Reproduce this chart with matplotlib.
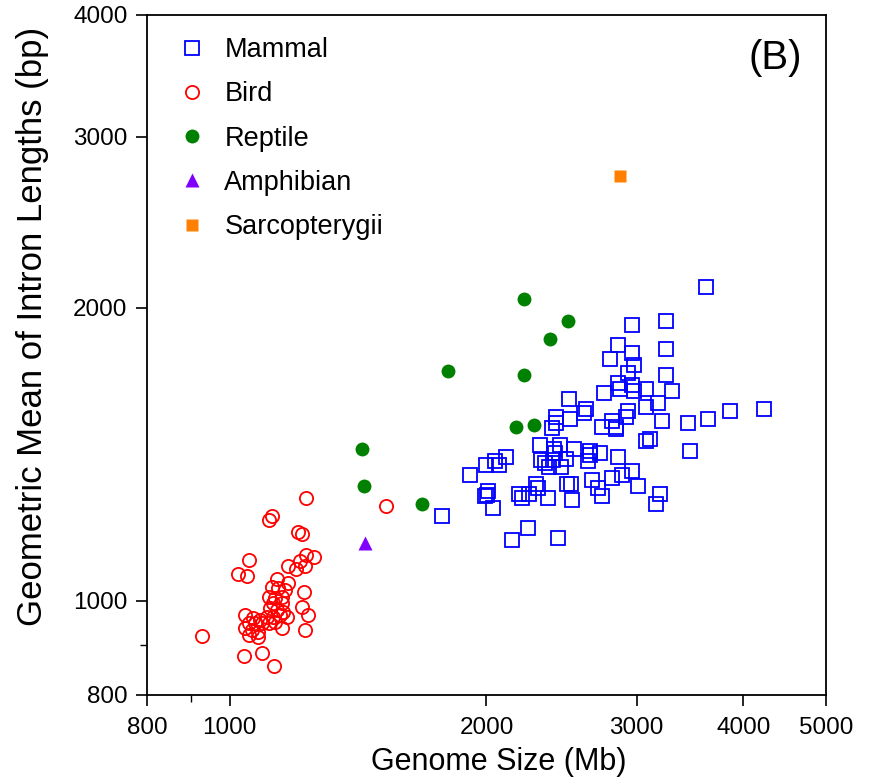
import numpy as np
import matplotlib
matplotlib.use("Agg")
import matplotlib.pyplot as plt
from matplotlib.ticker import FixedLocator, FixedFormatter, NullFormatter

plt.rcParams['font.family'] = ['Liberation Sans', 'DejaVu Sans']

# genome size (Mb) / geometric mean of intron lengths (bp)
mammal_x = [3616, 3247, 2963, 2853, 2963, 3247, 2792, 2979, 2931, 3247,
            2853, 2963, 2868, 2979, 3076, 2747, 3301, 3179, 3076, 2931,
            2915, 3861, 4231, 3636, 3447, 3212, 2807, 2838, 2838, 2733,
            3076, 3111, 3465, 2718, 2853, 2963, 2883, 2807, 2659, 2703,
            2733, 3011, 3195, 3162, 2645, 2645, 2630, 2616, 2602, 2499,
            2414, 2414, 2388, 2506, 2310, 2439, 2401, 2407, 2533, 2316,
            2341, 2369, 2394, 2446, 2479, 2109, 2046, 2069, 1997, 1913,
            2008, 2003, 1992, 2035, 2183, 2201, 2244, 2287, 2299, 2362,
            2485, 2513, 2520, 1775, 2237, 2144, 2426]
mammal_y = [2101, 1938, 1920, 1832, 1797, 1814, 1772, 1747, 1714, 1706,
            1674, 1666, 1651, 1643, 1651, 1635, 1643, 1597, 1582, 1567,
            1545, 1567, 1575, 1538, 1523, 1530, 1530, 1509, 1502, 1509,
            1460, 1466, 1425, 1418, 1405, 1359, 1347, 1337, 1331, 1306,
            1282, 1312, 1288, 1258, 1425, 1411, 1392, 1575, 1560, 1612,
            1545, 1523, 1505, 1538, 1446, 1446, 1431, 1418, 1431, 1395,
            1385, 1372, 1395, 1372, 1398, 1405, 1392, 1378, 1378, 1347,
            1297, 1285, 1282, 1246, 1288, 1276, 1288, 1318, 1306, 1276,
            1318, 1318, 1270, 1222, 1188, 1155, 1160]

bird_x = [1229, 1121, 1112, 1203, 1216, 1053, 1022, 1048, 1229, 1255,
          1209, 1225, 1196, 1170, 1136, 1170, 1222, 1121, 1139, 1161,
          1112, 1130, 1152, 1124, 1152, 1216, 1115, 1136, 1155, 1235,
          1042, 1065, 1085, 1106, 1124, 1146, 1167, 1053, 1070, 1091,
          1112, 1130, 1042, 1062, 1079, 1152, 1225, 1053, 1079, 928,
          1039, 1091, 1127, 1525]
bird_y = [1276, 1222, 1211, 1176, 1171, 1101, 1066, 1061, 1115, 1110,
          1098, 1086, 1079, 1086, 1052, 1043, 1021, 1033, 1031, 1026,
          1009, 1007, 1009, 995, 995, 985, 983, 978, 973, 966,
          966, 960, 955, 962, 962, 966, 962, 949, 949, 949,
          949, 951, 937, 933, 929, 937, 933, 922, 918, 920,
          877, 884, 857, 1252]

reptile_x = [2213, 2492, 2375, 1803, 2213, 2167, 2274, 1430, 1437, 1680]
reptile_y = [2042, 1938, 1857, 1722, 1706, 1509, 1516, 1431, 1312, 1258]

amphibian_x = [1441]
amphibian_y = [1147]

sarco_x = [2868]
sarco_y = [2732]

x_ticks = [800, 1000, 2000, 3000, 4000, 5000]
y_ticks = [800, 1000, 2000, 3000, 4000]

fig = plt.figure(figsize=(8.85, 7.83), dpi=100)
ax = fig.add_axes([0.1661, 0.1124, 0.7672, 0.8685])

ax.plot(mammal_x, mammal_y, 's', ms=9.5, mfc='none', mec='#0000ff', mew=1.3,
        label='Mammal')
ax.plot(bird_x, bird_y, 'o', ms=9.5, mfc='none', mec='#ff0000', mew=1.3,
        label='Bird')
ax.plot(reptile_x, reptile_y, 'o', ms=10, color='#008000', mec='none',
        label='Reptile')
ax.plot(amphibian_x, amphibian_y, '^', ms=10, color='#8000ff', mec='none',
        label='Amphibian')
ax.plot(sarco_x, sarco_y, 's', ms=9, color='#ff8000', mec='none',
        label='Sarcopterygii')

ax.set_xscale('log')
ax.set_yscale('log')
ax.set_xlim(800, 5000)
ax.set_ylim(800, 4000)

ax.xaxis.set_major_locator(FixedLocator(x_ticks))
ax.xaxis.set_major_formatter(FixedFormatter([str(t) for t in x_ticks]))
ax.xaxis.set_minor_locator(FixedLocator([900]))
ax.xaxis.set_minor_formatter(NullFormatter())
ax.yaxis.set_major_locator(FixedLocator(y_ticks))
ax.yaxis.set_major_formatter(FixedFormatter([str(t) for t in y_ticks]))
ax.yaxis.set_minor_locator(FixedLocator([900]))
ax.yaxis.set_minor_formatter(NullFormatter())

ax.tick_params(which='major', direction='out', length=8, width=1.2,
               labelsize=17.5)
ax.tick_params(axis='x', which='major', pad=8)
ax.tick_params(axis='y', which='major', pad=6)
ax.tick_params(which='minor', direction='out', length=5, width=1.0)
for s in ax.spines.values():
    s.set_linewidth(1.3)

ax.set_xlabel('Genome Size (Mb)', fontsize=22)
ax.xaxis.set_label_coords(0.518, -0.0985)
ax.set_ylabel('Geometric Mean of Intron Lengths (bp)', fontsize=25)
ax.yaxis.set_label_coords(-0.168, 0.5426)
ax.xaxis.label.set_va('center')
ax.yaxis.label.set_va('center')

ax.text(0.965, 0.965, '(B)', transform=ax.transAxes, fontsize=29,
        ha='right', va='top')

ax.legend(loc='upper left', bbox_to_anchor=(0.047, 0.9676), frameon=False,
          fontsize=19.5, handlelength=1.0, handletextpad=0.68, labelspacing=0.675,
          borderpad=0, borderaxespad=0, numpoints=1)

fig.savefig('out.png', dpi=100)
